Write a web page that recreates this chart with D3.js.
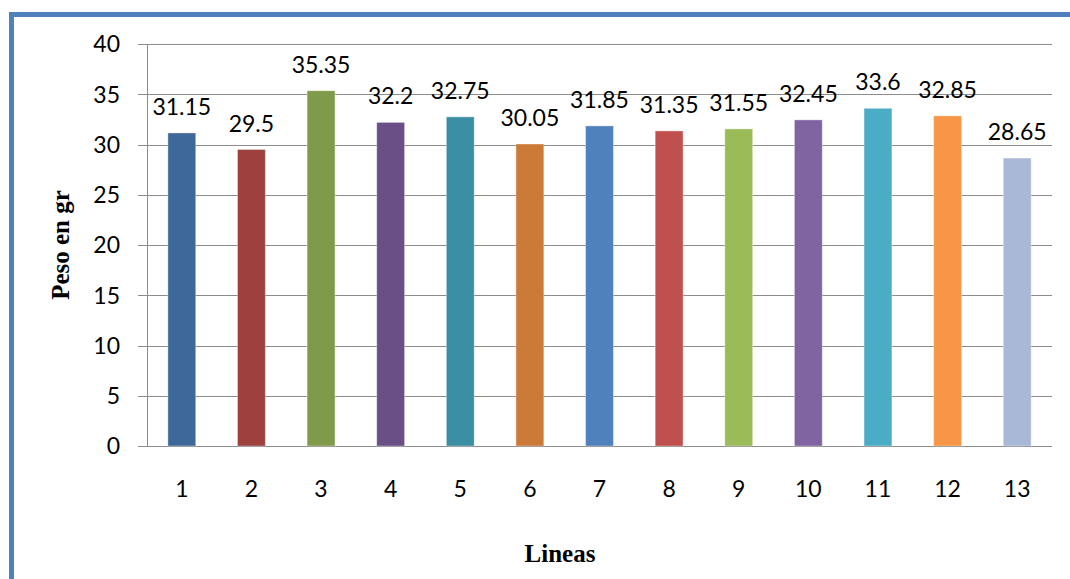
<!DOCTYPE html>
<html><head><meta charset="utf-8">
<script src="https://cdn.jsdelivr.net/npm/d3@7"></script>
<style>body{margin:0;background:#fff}svg{display:block}</style>
</head><body>
<svg id="c" width="1070" height="579"></svg>
<script>
const categories = ["1","2","3","4","5","6","7","8","9","10","11","12","13"];
const values = [31.15, 29.5, 35.35, 32.2, 32.75, 30.05, 31.85, 31.35, 31.55, 32.45, 33.6, 32.85, 28.65];
const colors = ["#3D6899","#9E413E","#7F9A48","#694F86","#3B8FA4","#CB7A38","#4F81BD","#C0504D","#9BBB59","#8064A2","#4BACC6","#F79646","#A9B8D7"];
const yTicks = [0,5,10,15,20,25,30,35,40];
const yTitle = "Peso en gr";
const xTitle = "Lineas";

const svg = d3.select("#c");
const L = 147, R = 1052, T = 44, B = 446;
const x = d3.scaleBand().domain(categories).range([L, R]).paddingInner(0.6).paddingOuter(0.3);
const y = d3.scaleLinear().domain([0, 40]).range([B, T]);

// border
svg.append("path").attr("d", "M11.5,579 L11.5,14.5 L1070,14.5")
  .attr("fill","none").attr("stroke","#4F81BD").attr("stroke-width",5);

const numFont = "Lato, 'Open Sans', sans-serif";

// gridlines
svg.append("g").selectAll("line").data(yTicks).join("line")
  .attr("x1", 138).attr("x2", R)
  .attr("y1", d => Math.round(y(d)) + 0.5).attr("y2", d => Math.round(y(d)) + 0.5)
  .attr("stroke", "#8c8c8c").attr("stroke-width", 1);

// y axis line
svg.append("line").attr("x1", L + 0.5).attr("x2", L + 0.5).attr("y1", T).attr("y2", B + 1)
  .attr("stroke", "#8c8c8c");

// y tick labels
svg.append("g").selectAll("text").data(yTicks).join("text")
  .attr("x", 120).attr("y", d => y(d)).attr("dy", "0.36em")
  .attr("text-anchor", "end").attr("font-family", numFont).attr("font-size", 23)
  .attr("fill", "#000").text(d => d);

// bars
svg.append("g").selectAll("rect").data(values).join("rect")
  .attr("x", (d, i) => x(categories[i])).attr("width", x.bandwidth())
  .attr("y", d => y(d)).attr("height", d => y(0) - y(d))
  .attr("fill", (d, i) => colors[i])
  .attr("stroke", "rgba(255,255,255,0.35)").attr("stroke-width", 1);

// value labels
svg.append("g").selectAll("text").data(values).join("text")
  .attr("x", (d, i) => x(categories[i]) + x.bandwidth() / 2)
  .attr("y", d => y(d) - 18)
  .attr("text-anchor", "middle").attr("font-family", numFont).attr("font-size", 23)
  .attr("fill", "#000").text(d => d);

// x labels
svg.append("g").selectAll("text").data(categories).join("text")
  .attr("x", d => x(d) + x.bandwidth() / 2).attr("y", 497)
  .attr("text-anchor", "middle").attr("font-family", numFont).attr("font-size", 23)
  .attr("fill", "#000").text(d => d);

// axis titles
svg.append("text").attr("transform", "translate(69,245) rotate(-90)")
  .attr("text-anchor", "middle").attr("font-family", "'Liberation Serif', 'Times New Roman', serif")
  .attr("font-weight", "bold").attr("font-size", 25).attr("fill", "#000").text(yTitle);

svg.append("text").attr("x", 560).attr("y", 562)
  .attr("text-anchor", "middle").attr("font-family", "'Liberation Serif', 'Times New Roman', serif")
  .attr("font-weight", "bold").attr("font-size", 25).attr("fill", "#000").text(xTitle);
</script>
</body></html>
